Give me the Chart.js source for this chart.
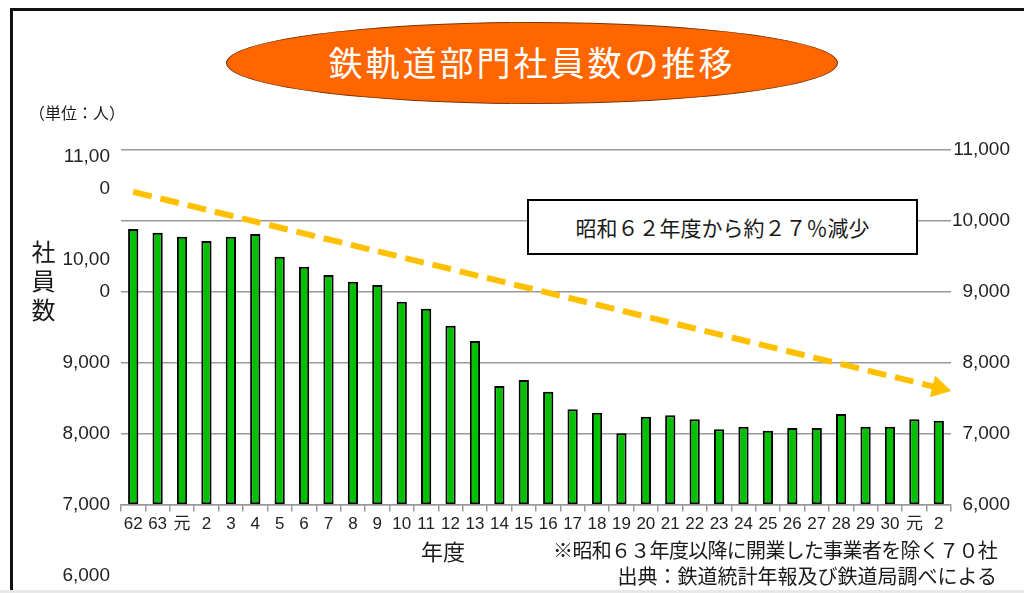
<!DOCTYPE html>
<html lang="ja">
<head>
<meta charset="utf-8">
<title>鉄軌道部門社員数の推移</title>
<script src="https://cdn.jsdelivr.net/npm/chart.js@4.4.1/dist/chart.umd.min.js"></script>
<style>
  html, body { margin: 0; padding: 0; background: #fff; }
  #wrap {
    position: relative; width: 1024px; height: 593px; overflow: hidden; background: #fff;
    font-family: 'Noto Sans CJK JP', sans-serif; color: #1a1a1a;
  }
  #wrap canvas { position: absolute; left: 0; top: 0; }
  .abs { position: absolute; white-space: nowrap; }
  .frame { left: 10px; top: 8px; width: 1100px; height: 700px; border-top: 3px solid #111; border-left: 3px solid #111; }
  .strip { left: 0; top: 590px; width: 1024px; height: 3px; background: #e8e8e8; }
  .title {
    left: 226px; top: 22px; width: 612px; height: 82px; box-sizing: border-box;
    border-radius: 50%; background: #ff6600; border: 1.5px solid #7a3300;
    color: #fff; font-size: 34px; line-height: 78px; text-align: center; letter-spacing: 3px;
  }
  .unit { left: 29px; top: 100px; font-size: 16px; }
  .ylabel { left: 26px; top: 240px; font-size: 24px; writing-mode: vertical-rl; letter-spacing: 5px; }
  .box {
    left: 527px; top: 199px; width: 391px; height: 56px; box-sizing: border-box;
    border: 2px solid #000; background: #fff; font-size: 21px; line-height: 52px; text-align: center;
  }
  .xtitle { left: 421px; top: 536px; font-size: 22px; line-height: 28px; }
  .note { right: 27px; font-size: 20px; line-height: 24px; }
</style>
</head>
<body>
<div id="wrap">
  <canvas id="staff-chart" width="1024" height="593"></canvas>
  <div class="abs frame"></div>
  <div class="abs strip"></div>
  <div class="abs title">鉄軌道部門社員数の推移</div>
  <div class="abs unit">（単位：人）</div>
  <div class="abs ylabel">社員数</div>
  <div class="abs box">昭和６２年度から約２７％減少</div>
  <div class="abs xtitle">年度</div>
  <div class="abs note" style="top:538px; letter-spacing:-0.7px">※昭和６３年度以降に開業した事業者を除く７０社</div>
  <div class="abs note" style="top:564px">出典：鉄道統計年報及び鉄道局調べによる</div>
</div>
<script>
// Fiscal years: Showa 62-63, Heisei 元-30, Reiwa 元-2
const years = ['62', '63', '元', '2', '3', '4', '5', '6', '7', '8', '9', '10', '11', '12', '13',
  '14', '15', '16', '17', '18', '19', '20', '21', '22', '23', '24', '25', '26', '27', '28',
  '29', '30', '元', '2'];

// Rail staff headcount per year (persons)
const staff = [9887, 9835, 9779, 9718, 9779, 9817, 9497, 9356, 9239, 9145, 9099, 8864, 8765,
  8525, 8310, 7676, 7760, 7596, 7348, 7300, 7010, 7244, 7263, 7207, 7066, 7103, 7046, 7085,
  7085, 7282, 7103, 7103, 7207, 7187];

// Downward trend arrow, first year to last year
const trendFrom = 10410;
const trendTo = 7650;

// Right axis ticks
const rightTicks = [6000, 7000, 8000, 9000, 10000, 11000];

// Left axis ticks. The two widest labels wrap; trailing blank lines lift
// the wrapped text above the tick instead of centring it.
const leftTickValues = [6000, 7000, 8000, 9000, 10000, 11000];
const leftTickLabels = ['6,000', '7,000', '8,000', '9,000', ['10,00', '0', ''], ['11,00', '0', '', '', '']];

const barBase = 6000;
const tickFont = "'Liberation Sans', 'Noto Sans CJK JP', sans-serif";
const last = years.length - 1;
const trend = years.map(function(_, i) {
    if (i === 0) return trendFrom;
    if (i === last) return trendTo;
    return null;
});

// Point the arrow head along the drawn slope of the trend line.
function arrowAngle(ctx) {
    const xs = ctx.chart.scales.x;
    const ys = ctx.chart.scales.y;
    const dx = xs.getPixelForValue(last) - xs.getPixelForValue(0);
    const dy = ys.getPixelForValue(trendTo) - ys.getPixelForValue(trendFrom);
    return 90 + Math.atan2(dy, dx) * 180 / Math.PI;
}

new Chart(document.getElementById('staff-chart'), {
    type: 'bar',
    data: {
        labels: years,
        datasets: [
            {
                type: 'line',
                data: trend,
                yAxisID: 'y',
                order: 0,
                spanGaps: true,
                fill: false,
                tension: 0,
                borderColor: '#FFC000',
                borderWidth: 6,
                borderDash: [19, 9],
                borderCapStyle: 'butt',
                pointStyle: 'triangle',
                pointRadius: function(ctx) { return ctx.dataIndex === last ? 12 : 0; },
                pointBackgroundColor: '#FFC000',
                pointBorderColor: '#FFC000',
                pointBorderWidth: 1,
                pointRotation: arrowAngle,
            },
            {
                label: '社員数',
                data: staff,
                yAxisID: 'y',
                order: 1,
                base: barBase,
                backgroundColor: '#00C000',
                borderColor: '#000',
                borderWidth: 2,
                borderSkipped: false,
                barPercentage: 0.42,
                categoryPercentage: 1,
            }
        ]
    },
    options: {
        responsive: false,
        animation: false,
        devicePixelRatio: 1,
        layout: { padding: { top: 150, bottom: 17, left: 0, right: 14 } },
        plugins: {
            legend: { display: false },
            tooltip: { enabled: false }
        },
        scales: {
            x: {
                position: { y: barBase },
                offset: true,
                grid: {
                    drawOnChartArea: false, drawTicks: true, tickLength: 6, offset: true,
                    color: '#999', lineWidth: 1.5
                },
                border: { display: true, color: '#999', width: 1.5 },
                ticks: {
                    autoSkip: false, maxRotation: 0, padding: 3, color: '#222',
                    font: { family: tickFont, size: 17 }
                }
            },
            y: {
                position: 'right',
                min: 5000,
                max: 11000,
                afterBuildTicks: function(s) { s.ticks = rightTicks.map(function(v) { return { value: v }; }); },
                afterFit: function(s) { s.width = 59; },
                grid: { color: '#999', lineWidth: 1.5, drawTicks: false },
                border: { display: false },
                ticks: {
                    autoSkip: false, crossAlign: 'far', padding: 0, color: '#222',
                    font: { family: tickFont, size: 19 },
                    callback: function(v) { return v.toLocaleString('en-US'); }
                }
            },
            yL: {
                position: 'left',
                min: 6000,
                max: 12000,
                afterBuildTicks: function(s) { s.ticks = leftTickValues.map(function(v) { return { value: v }; }); },
                afterFit: function(s) { s.width = 121; },
                grid: { display: false, drawTicks: false },
                border: { display: false },
                ticks: {
                    autoSkip: false, padding: 11, color: '#222',
                    // wrapped labels need a real line height; single lines keep a
                    // tight one so the bottom label does not shrink the plot area
                    font: function(ctx) {
                        const wrapped = ctx.tick && ctx.tick.value >= 10000;
                        return { family: tickFont, size: 19, lineHeight: wrapped ? '32px' : '12px' };
                    },
                    callback: function(v) { return leftTickLabels[leftTickValues.indexOf(v)]; }
                }
            }
        }
    }
});
</script>
</body>
</html>
